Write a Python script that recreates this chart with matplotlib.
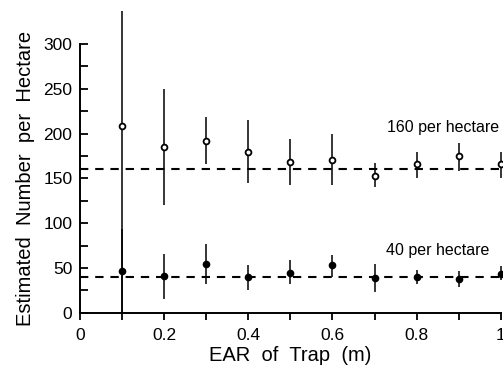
import matplotlib
matplotlib.use("Agg")
import matplotlib.pyplot as plt
import numpy as np

plt.rcParams['font.family'] = ['Liberation Sans', 'DejaVu Sans']

# EAR of trap (m)
ear = [0.1, 0.2, 0.3, 0.4, 0.5, 0.6, 0.7, 0.8, 0.9, 1.0]

# 160 per hectare series (open circles): estimate, lower, upper
high_est = [208, 185, 192, 180, 168, 171, 153, 166, 175, 166]
high_low = [0, 120, 166, 145, 143, 143, 140, 151, 158, 151]
high_up = [337, 250, 218, 215, 194, 200, 167, 180, 190, 180]

# 40 per hectare series (filled circles)
low_est = [47, 41, 55, 40, 45, 53, 39, 40, 38, 43]
low_low = [0, 16, 32, 26, 32, 40, 23, 32, 29, 37]
low_up = [94, 66, 77, 53, 59, 65, 55, 48, 47, 52]

true_density = [160, 40]
labels = ['160 per hectare', '40 per hectare']

fig = plt.figure(figsize=(5.03, 3.77), dpi=100)
ax = fig.add_axes([0.159, 0.170, 0.8365, 0.7135])

# true density reference lines
for d in true_density:
    ax.axhline(d, color='black', lw=1.5, ls=(0, (4, 3.3)), zorder=1)

def draw(est, lo, up, face):
    est = np.array(est)
    err = [est - np.array(lo), np.array(up) - est]
    eb = ax.errorbar(ear, est, yerr=err, fmt='o', color='black', ecolor='black',
                     elinewidth=1.1, capsize=0, ms=4.2, mfc=face, mec='black',
                     mew=1.3, zorder=3)
    for art in eb.lines[0:1] + tuple(eb.lines[2]):
        art.set_clip_on(False)

draw(high_est, high_low, high_up, 'white')
draw(low_est, low_low, low_up, 'black')

ax.text(0.73, 207, labels[0], fontsize=11.5, va='center', ha='left')
ax.text(0.727, 70, labels[1], fontsize=11.5, va='center', ha='left')

ax.set_xlim(0, 1)
ax.set_ylim(0, 300)
ax.set_xticks(np.arange(0, 1.01, 0.2))
ax.set_xticklabels(['0', '0.2', '0.4', '0.6', '0.8', '1'])
ax.set_xticks(np.arange(0.1, 1.0, 0.2), minor=True)
ax.set_yticks(np.arange(0, 301, 50))
ax.set_yticks(np.arange(25, 300, 50), minor=True)

ax.spines['top'].set_visible(False)
ax.spines['right'].set_visible(False)
ax.spines['left'].set_linewidth(1.4)
ax.spines['bottom'].set_linewidth(1.4)

ax.tick_params(axis='y', which='both', direction='in', length=6, width=1.3,
               labelsize=12.5, pad=5.5)
ax.tick_params(axis='x', which='both', direction='out', length=5, width=1.3,
               labelsize=12.5, pad=6)

ax.set_xlabel('EAR  of  Trap  (m)', fontsize=14.5, labelpad=2)
ax.set_ylabel('Estimated  Number  per  Hectare', fontsize=14.5, labelpad=6)

fig.savefig('out.png', dpi=100)
